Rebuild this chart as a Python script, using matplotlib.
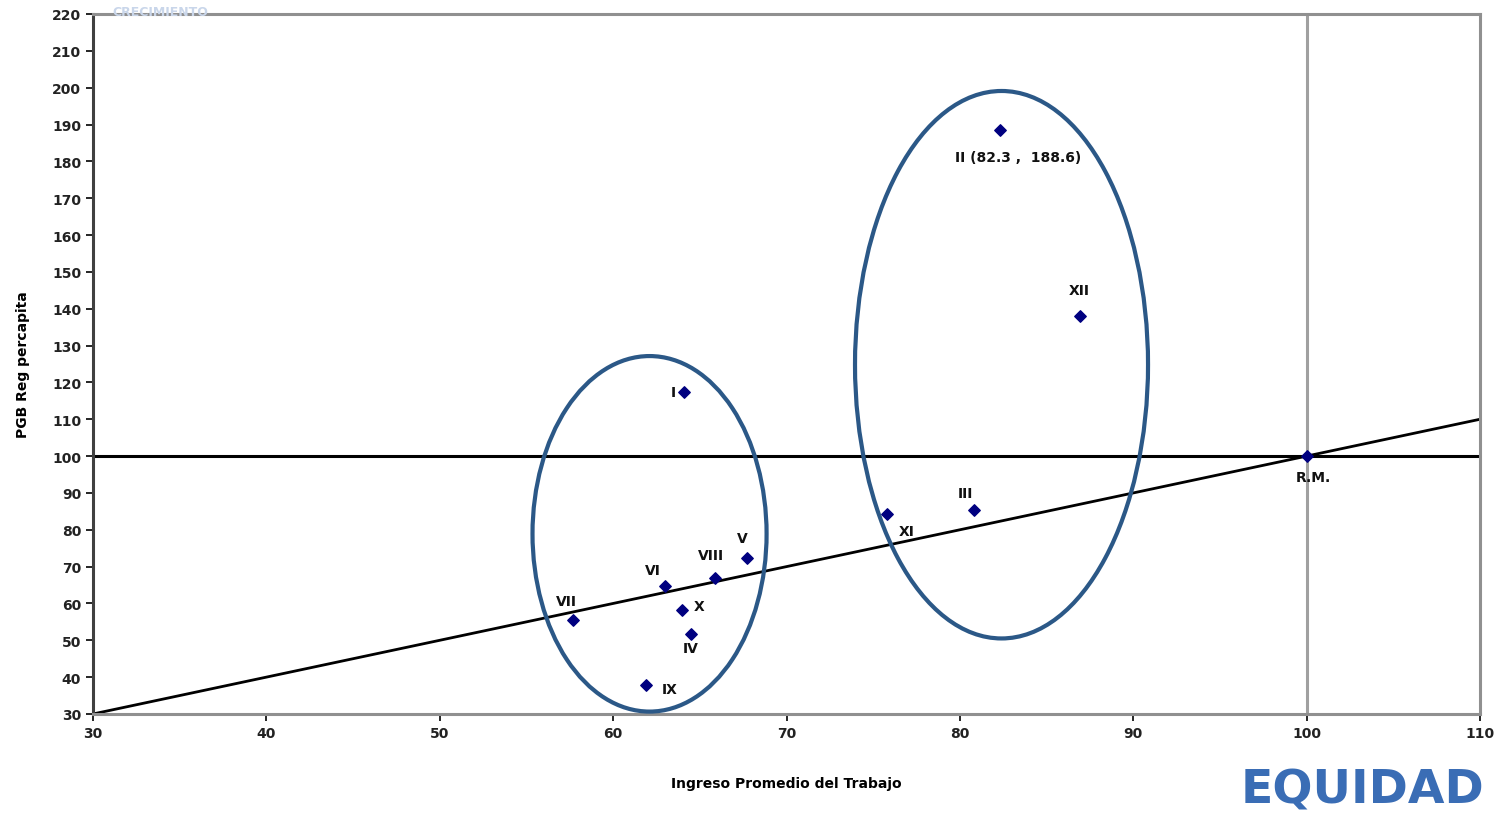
import matplotlib
matplotlib.use("Agg")
import matplotlib.pyplot as plt
from matplotlib.patches import Ellipse
import numpy as np

# regiones: ingreso promedio del trabajo vs PGB regional per capita (R.M. = 100)
regions = ["I", "II (82.3 ,  188.6)", "III", "IV", "V", "VI", "VII", "VIII", "IX", "X", "XI", "XII", "R.M."]
ingreso = [64.1, 82.3, 80.8, 64.5, 67.7, 63.0, 57.7, 65.9, 61.9, 64.0, 75.8, 86.9, 100.0]
pgb = [117.5, 188.6, 85.4, 51.7, 72.4, 64.8, 55.5, 67.0, 37.9, 58.3, 84.3, 137.9, 100.0]

# label offsets in points
offsets = [(-8, 0), (13, -20), (-6, 12), (0, -10), (-3, 14), (-9, 11), (-5, 14), (-3, 16),
           (17, -3), (12, 3), (14, -12), (0, 19), (5, -15)]

line_x = [30, 110]
line_y = [30, 110]

XTICKS = np.arange(30, 111, 10)
YTICKS = np.arange(30, 221, 10)

fig = plt.figure(figsize=(15.02, 8.28), dpi=100)
ax = fig.add_axes([0.0619, 0.1365, 0.9235, 0.8454])

ax.set_xlim(30, 110)
ax.set_ylim(30, 220)

ax.axhline(100, color="black", lw=2.2, zorder=2)
ax.axvline(100, color="#a0a0a0", lw=2.2, zorder=1)
ax.plot(line_x, line_y, color="black", lw=2.0, zorder=2)

ax.add_patch(Ellipse((62.1, 78.9), 13.5, 96.5, fill=False,
                     edgecolor="#2b5887", lw=3, zorder=3))
ax.add_patch(Ellipse((82.4, 124.8), 16.9, 148.6, fill=False,
                     edgecolor="#2b5887", lw=3, zorder=3))

ax.scatter(ingreso, pgb, marker="D", s=34, color="#000080", zorder=4)

for name, x, y, off in zip(regions, ingreso, pgb, offsets):
    ax.annotate(name, (x, y), xytext=off, textcoords="offset points",
                ha="center", va="center", fontsize=10, fontweight="bold",
                color="#111111", zorder=5)

ax.set_xticks(XTICKS)
ax.set_yticks(YTICKS)
ax.tick_params(labelsize=10, length=5, width=1.2, direction="out")
for lbl in ax.get_xticklabels() + ax.get_yticklabels():
    lbl.set_fontweight("bold")
    lbl.set_color("#222222")

for side in ["top", "right", "bottom"]:
    ax.spines[side].set_color("#909090")
    ax.spines[side].set_linewidth(2.2)
ax.spines["left"].set_color("#404040")
ax.spines["left"].set_linewidth(2.2)

ax.set_xlabel("Ingreso Promedio del Trabajo", fontsize=10, fontweight="bold", labelpad=26)
ax.set_ylabel("PGB Reg percapita", fontsize=10, fontweight="bold", labelpad=16)

# decorative banner texts
fig.text(0.075, 0.993, "CRECIMIENTO", fontsize=9, fontweight="bold", color="#c9d6ea",
         va="top", ha="left", zorder=0)
fig.text(0.907, 0.045, "EQUIDAD", fontsize=34, fontweight="bold", color="#3a6db5",
         ha="center", va="center")

fig.savefig("out.png", dpi=100)
